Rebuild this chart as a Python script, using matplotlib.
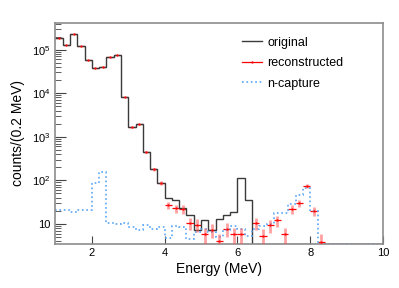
import numpy as np
import matplotlib
matplotlib.use('Agg')
import matplotlib.pyplot as plt
from matplotlib.lines import Line2D
from matplotlib.ticker import FixedLocator, FuncFormatter, LogLocator, NullLocator

plt.rcParams['font.family'] = ['Liberation Sans', 'DejaVu Sans']

# bin edges 1..10 MeV, 0.2 MeV wide
edges = np.round(np.arange(1.0, 10.01, 0.2), 2)

original = [1.86e5, 1.30e5, 2.29e5, 1.19e5, 5.7e4, 3.8e4, 4.1e4, 6.7e4, 7.7e4, 8.2e3,
            1.64e3, 1.95e3, 450, 180, 88, 39, 35, 23, 16, 7.2,
            12, 7.2, 12.8, 16, 19, 112, 35, 0, 0, 0,
            0, 0, 0, 0, 0, 0, 0, 0, 0, 0,
            0, 0, 0, 0, 0]

reconstructed = [1.86e5, 1.30e5, 2.29e5, 1.19e5, 5.7e4, 3.8e4, 4.1e4, 6.7e4, 7.7e4, 8.2e3,
                 1.64e3, 1.95e3, 450, 180, 87, 27, 23, 22, 10.7, 9.6,
                 5.8, 7.4, 4.0, 7.8, 5.8, 5.8, 0, 10.6, 5.4, 9.2,
                 12, 5.8, 22, 30, 74, 20, 3.9, 0, 0, 0,
                 0, 0, 0, 0, 0]

ncapture = [21, 21, 18.6, 21, 21, 89, 155, 10.5, 9.8, 10.3,
            8.3, 7.1, 9.2, 7.6, 8.3, 4.7, 8.8, 8.4, 4.5, 6.6,
            7.6, 6.5, 5.0, 7.2, 9.0, 7.6, 5.2, 7.6, 8.8, 9.8,
            17.7, 17.7, 29, 46, 66, 20, 0, 0, 0, 0,
            0, 0, 0, 0, 0]

ymin, ymax = 3.47, 4.1e5

original = np.array(original, dtype=float)
reconstructed = np.array(reconstructed, dtype=float)
ncapture = np.array(ncapture, dtype=float)
centers = 0.5 * (edges[:-1] + edges[1:])
halfw = 0.5 * (edges[1:] - edges[:-1])

fig = plt.figure(figsize=(3.99, 2.88), dpi=100)
ax = fig.add_axes([0.139, 0.153, 0.821, 0.767])

ax.stairs(np.maximum(original, ymin), edges, baseline=None, color='#3a3a3a', lw=1.0, zorder=2)
ax.stairs(np.maximum(ncapture, ymin), edges, baseline=None, color='#5aa5f5', lw=1.2,
          linestyle=':', zorder=2)

# reconstructed points with stat errors
m = reconstructed > 0
n = reconstructed[m]
err = np.sqrt(n)
err_lo = np.minimum(err, n - 1e-3)
ax.errorbar(centers[m], n, yerr=[err_lo, err], fmt='none', ecolor='#ff5555', alpha=0.55,
            elinewidth=2.0, zorder=3)
ax.errorbar(centers[m], n, xerr=halfw[m], fmt='none', ecolor='red', elinewidth=0.9,
            zorder=1.9)
ax.plot(centers[m], n, 'o', color='red', ms=1.6, mew=0, zorder=4)

ax.set_yscale('log')
ax.set_xlim(1, 10)
ax.set_ylim(ymin, ymax)

ax.xaxis.set_major_locator(FixedLocator([2, 4, 6, 8, 10]))
ax.xaxis.set_minor_locator(NullLocator())
ax.yaxis.set_major_locator(FixedLocator([10, 1e2, 1e3, 1e4, 1e5]))
ax.yaxis.set_minor_locator(LogLocator(base=10, subs=np.arange(2, 10)))
ax.yaxis.set_major_formatter(FuncFormatter(
    lambda v, p: '10' if v == 10 else r'$\mathregular{10^{%d}}$' % round(np.log10(v))))

ax.tick_params(which='both', direction='in', top=False, right=False, labelsize=8,
               color='#444444')
ax.tick_params(axis='y', which='major', length=8)
ax.tick_params(axis='y', which='minor', length=4)
ax.tick_params(axis='x', which='major', length=6, pad=3)
for s in ax.spines.values():
    s.set_color('#8c8c8c')
    s.set_linewidth(1.2)

ax.set_xlabel('Energy (MeV)', fontsize=10, labelpad=3)
ax.set_ylabel('counts/(0.2 MeV)', fontsize=10, labelpad=5)

handles = [
    Line2D([], [], color='#3a3a3a', lw=1.0),
    Line2D([], [], color='red', lw=0.9, marker='o', ms=1.6, mew=0),
    Line2D([], [], color='#5aa5f5', lw=1.2, linestyle=':'),
]
ax.legend(handles, ['original', 'reconstructed', 'n-capture'], loc='upper left',
          bbox_to_anchor=(0.607, 0.872), bbox_transform=fig.transFigure, frameon=False,
          fontsize=9, borderpad=0, borderaxespad=0, handlelength=1.6, handletextpad=0.4,
          labelspacing=0.68)

fig.savefig('out.png', dpi=100)
